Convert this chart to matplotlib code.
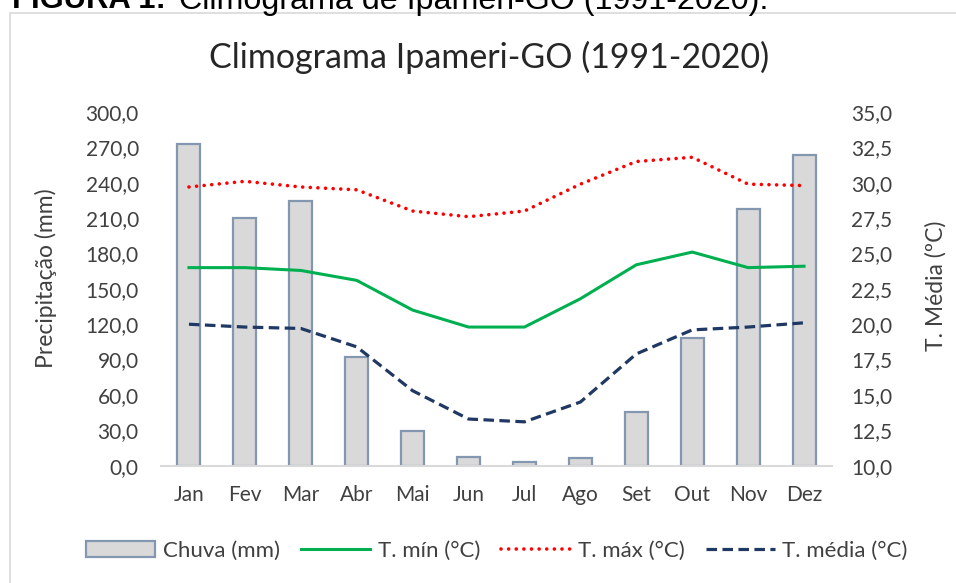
import numpy as np
import matplotlib
matplotlib.use("Agg")
import matplotlib.pyplot as plt
from matplotlib.patches import Rectangle, Patch
from matplotlib.ticker import FuncFormatter, MultipleLocator

meses = ['Jan', 'Fev', 'Mar', 'Abr', 'Mai', 'Jun', 'Jul', 'Ago', 'Set', 'Out', 'Nov', 'Dez']
chuva = [272.6, 210.3, 224.5, 92.4, 29.4, 7.1, 3.1, 6.3, 45.5, 108.6, 218.0, 263.5]
t_min = [24.0, 24.0, 23.8, 23.1, 21.0, 19.8, 19.8, 21.8, 24.2, 25.1, 24.0, 24.1]
t_max = [29.7, 30.1, 29.7, 29.5, 28.0, 27.6, 28.0, 29.9, 31.5, 31.8, 29.9, 29.8]
t_media = [20.0, 19.8, 19.7, 18.4, 15.3, 13.3, 13.1, 14.5, 17.9, 19.6, 19.8, 20.1]

TXT = '#404040'
plt.rcParams['font.family'] = ['Lato', 'DejaVu Sans']


def virgula(v, pos=None):
    return f"{v:.1f}".replace('.', ',')


fig = plt.figure(figsize=(9.56, 5.83), dpi=100)
W, H = 956, 583

# moldura do grafico + legenda da figura (cortada no topo, como no original)
fig.patches.append(Rectangle((9.5 / W, -0.1), 1.2, 1 - 13 / H + 0.1, transform=fig.transFigure,
                             fill=False, edgecolor='#d9d9d9', lw=1.2))
arial = ['Liberation Sans', 'DejaVu Sans']
fig.text(12 / W, 1 - 8.5 / H, 'FIGURA 1:', fontsize=22.3, fontweight='bold', va='baseline',
         family=arial, color='black')
fig.text(179 / W, 1 - 8.5 / H, 'Climograma de Ipameri-GO (1991-2020).', fontsize=23.2, va='baseline',
         family=arial, color='black')

ax = fig.add_axes([161 / W, 1 - 465.7 / H, (832 - 161) / W, (465.7 - 112) / H])
ax2 = ax.twinx()

x = np.arange(len(meses))
ax.bar(x, chuva, width=0.41, color='#d9d9d9', edgecolor='#8497b0', linewidth=1.6, zorder=2)
ax.set_xlim(-0.5, len(meses) - 0.5)
ax.set_ylim(0, 300)
ax.yaxis.set_major_locator(MultipleLocator(30))
ax.yaxis.set_major_formatter(FuncFormatter(virgula))
ax.set_xticks(x)
ax.set_xticklabels(meses)

ax2.set_ylim(10, 35)
ax2.yaxis.set_major_locator(MultipleLocator(2.5))
ax2.yaxis.set_major_formatter(FuncFormatter(virgula))

for a in (ax, ax2):
    for s in ('top', 'left', 'right', 'bottom'):
        a.spines[s].set_visible(False)
ax.spines['bottom'].set_visible(True)
ax.spines['bottom'].set_color('#d9d9d9')
ax.spines['bottom'].set_linewidth(1.5)

ax.tick_params(axis='y', length=0, pad=16, labelsize=15, labelcolor=TXT)
ax.tick_params(axis='x', length=0, pad=14, labelsize=15, labelcolor=TXT)
ax2.tick_params(axis='y', length=0, pad=14, labelsize=15, labelcolor=TXT)

ax2.plot(x, t_min, color='#00b050', lw=2.2, label='T. mín (°C)', zorder=3)
ax2.plot(x, t_max, color='#ff0000', lw=2.6, linestyle=(0, (0.01, 2.1)), dash_capstyle='round',
         label='T. máx (°C)', zorder=3)
ax2.plot(x, t_media, color='#203864', lw=2.3, linestyle=(0, (3.3, 1.7)), label='T. média (°C)', zorder=3)

ax.set_ylabel('Precipitação (mm)', fontsize=16.5, color=TXT)
ax.yaxis.set_label_coords(-0.155, 0.53)
ax2.set_ylabel('T. Média (ºC)', fontsize=16.5, color=TXT)
ax2.yaxis.set_label_coords(1.139, 0.51)
fig.text(489 / W, 1 - 57 / H, 'Climograma Ipameri-GO (1991-2020)', fontsize=24.5, color='#262626',
         ha='center', va='center')

handles = [Patch(facecolor='#d9d9d9', edgecolor='#8497b0', linewidth=1.6, label='Chuva (mm)')]
handles += ax2.get_lines()
fig.legend(handles=handles, loc='center', bbox_to_anchor=(497 / W, 1 - 551 / H), ncol=4,
           frameon=False, fontsize=16, labelcolor=TXT, handlelength=3.1, handleheight=0.75,
           handletextpad=0.35, columnspacing=0.95)

fig.savefig('out.png', dpi=100)
